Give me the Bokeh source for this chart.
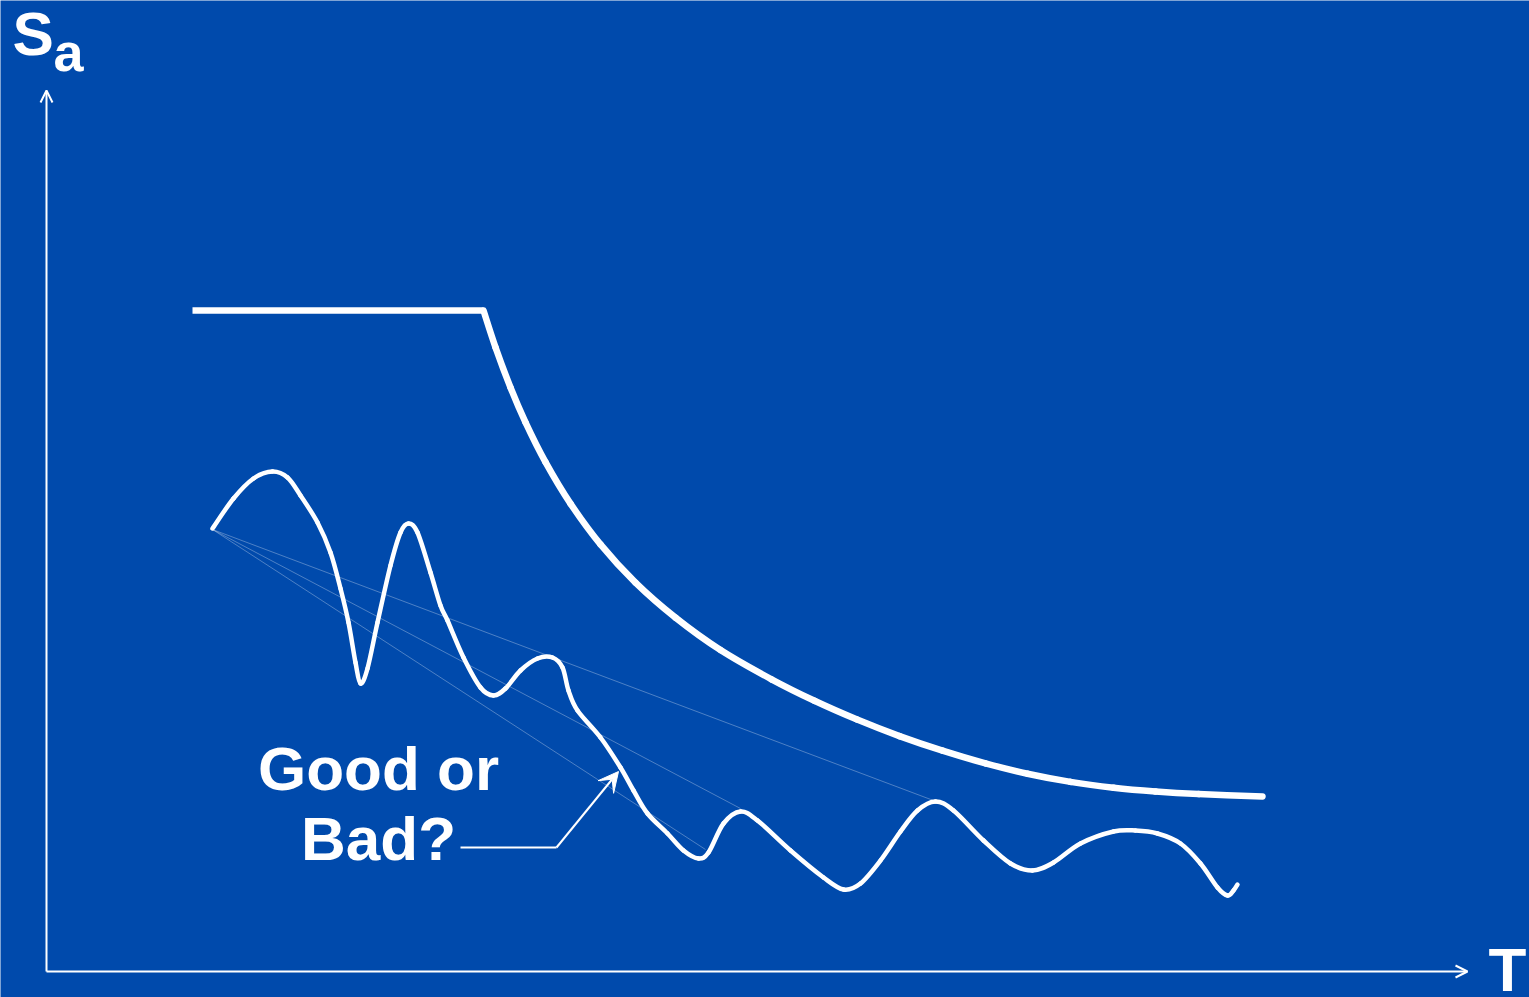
import re
from bokeh.plotting import figure
from bokeh.models import Range1d, Arrow, OpenHead, VeeHead
from bokeh.core.properties import value
from bokeh.embed import file_html
from bokeh.resources import INLINE

BG = "#004AAC"
FONT = "Liberation Sans"

# Design spectrum: plateau
plateau_T = [1.46, 4.37]
plateau_Sa = [6.61, 6.61]
# Design spectrum: descending branch
design_T = [4.37, 4.49, 4.64, 4.79, 4.99, 5.24, 5.54, 5.89, 6.29, 6.74, 7.25, 7.68,
            8.10, 8.53, 8.96, 9.39, 9.81, 10.24, 10.67, 11.09, 11.52, 12.16]
design_Sa = [6.610, 6.242, 5.840, 5.492, 5.094, 4.679, 4.271, 3.889, 3.539, 3.215,
             2.922, 2.707, 2.522, 2.354, 2.208, 2.081, 1.978, 1.896, 1.838, 1.800,
             1.774, 1.750]

# Record spectrum (wiggly)
record_T = [1.66, 1.87, 2.07, 2.26, 2.41, 2.54, 2.71, 2.84, 2.94, 3.02, 3.09,
            3.14, 3.21, 3.31, 3.44, 3.54, 3.62, 3.71, 3.84, 3.94,
            4.01, 4.17, 4.34, 4.47, 4.59, 4.74, 4.91, 5.06, 5.16,
            5.22, 5.31, 5.54, 5.74, 5.87, 6.01, 6.21, 6.37, 6.52, 6.62, 6.77,
            6.94, 7.11, 7.44, 7.77, 7.97, 8.14, 8.34, 8.54, 8.71,
            8.89, 9.07, 9.37, 9.64, 9.86, 10.07, 10.34, 10.67,
            10.89, 11.11, 11.34, 11.54, 11.71, 11.81, 11.87, 11.91]
record_Sa = [4.43, 4.73, 4.93, 5.00, 4.94, 4.76, 4.49, 4.19, 3.83, 3.49, 3.09,
             2.88, 3.03, 3.49, 4.06, 4.39, 4.48, 4.39, 3.99, 3.66,
             3.51, 3.14, 2.84, 2.76, 2.83, 3.01, 3.13, 3.14, 3.04,
             2.81, 2.61, 2.34, 2.04, 1.81, 1.58, 1.38, 1.21, 1.13, 1.19, 1.48,
             1.60, 1.51, 1.21, 0.94, 0.82, 0.88, 1.11, 1.40, 1.61,
             1.70, 1.61, 1.31, 1.08, 1.01, 1.09, 1.28, 1.40,
             1.41, 1.38, 1.28, 1.08, 0.84, 0.76, 0.81, 0.87]

# Thin fan lines from the first record point
fan_start = (1.66, 4.42)
fan_end_T = [6.59, 6.94, 8.87]
fan_end_Sa = [1.22, 1.63, 1.71]

# Annotation
note_lines = ["Good or", "Bad?"]
note_T = [3.32, 3.32]
note_Sa = [1.79, 1.09]
leader_T = [4.14, 5.10]
leader_Sa = [1.24, 1.24]
leader_tip = (5.72, 2.00)

# Axes
axis_top_Sa = 8.81
axis_end_T = 14.21

TXT_SHIFT = 0.24  # compensate the renderer's baseline offset for 62px text
TXT_SHIFT_SMALL = 0.20


def smooth_segments(xs, ys):
    """Catmull-Rom through the read points, drawn as cubic Bezier segments."""
    n = len(xs)
    x0, y0, x1, y1, cx0, cy0, cx1, cy1 = ([] for _ in range(8))
    for i in range(n - 1):
        pxm = xs[i - 1] if i > 0 else xs[i]
        pym = ys[i - 1] if i > 0 else ys[i]
        pxp = xs[i + 2] if i + 2 < n else xs[i + 1]
        pyp = ys[i + 2] if i + 2 < n else ys[i + 1]
        x0.append(xs[i]); y0.append(ys[i])
        x1.append(xs[i + 1]); y1.append(ys[i + 1])
        cx0.append(xs[i] + (xs[i + 1] - pxm) / 6.0)
        cy0.append(ys[i] + (ys[i + 1] - pym) / 6.0)
        cx1.append(xs[i + 1] - (pxp - xs[i]) / 6.0)
        cy1.append(ys[i + 1] - (pyp - ys[i]) / 6.0)
    return dict(x0=x0, y0=y0, x1=x1, y1=y1, cx0=cx0, cy0=cy0, cx1=cx1, cy1=cy1)


p = figure(width=1529, height=997, output_backend="svg", toolbar_location=None,
           x_range=Range1d(-0.46, 14.83), y_range=Range1d(-0.26, 9.71),
           min_border=0, background_fill_color=BG, border_fill_color=BG,
           outline_line_color=None)
p.axis.visible = False
p.grid.visible = False

# axes with arrows
p.add_layout(Arrow(x_start=0, y_start=0, x_end=0, y_end=axis_top_Sa,
                   line_color="white", line_width=2,
                   end=OpenHead(line_color="white", line_width=2, size=12)))
p.add_layout(Arrow(x_start=0, y_start=0, x_end=axis_end_T, y_end=0,
                   line_color="white", line_width=2,
                   end=OpenHead(line_color="white", line_width=2, size=12)))

# fan lines
for xe, ye in zip(fan_end_T, fan_end_Sa):
    p.line([fan_start[0], xe], [fan_start[1], ye], line_color="white",
           line_alpha=0.3, line_width=1)

# design spectrum
p.line(plateau_T, plateau_Sa, line_color="white", line_width=6.5)
p.bezier(**smooth_segments(design_T, design_Sa),
         line_color="white", line_width=6.5, line_cap="round")

# record spectrum
p.bezier(**smooth_segments(record_T, record_Sa),
         line_color="white", line_width=4.5, line_cap="round")

# leader line and arrow
p.line(leader_T, leader_Sa, line_color="white", line_width=2)
p.add_layout(Arrow(x_start=leader_T[-1], y_start=leader_Sa[-1],
                   x_end=leader_tip[0], y_end=leader_tip[1],
                   line_color="white", line_width=2,
                   end=VeeHead(size=20, fill_color="white", line_color="white")))

# annotation text
p.text(x=note_T, y=[s + TXT_SHIFT for s in note_Sa], text=note_lines,
       text_color="white", text_font=value(FONT), text_font_style="bold",
       text_font_size="62px", text_align="center", text_baseline="alphabetic")

# axis labels
p.text(x=[-0.34], y=[9.14 + TXT_SHIFT], text=["S"], text_color="white",
       text_font=value(FONT), text_font_style="bold", text_font_size="62px",
       text_align="left", text_baseline="alphabetic")
p.text(x=[0.07], y=[9.00 + TXT_SHIFT_SMALL], text=["a"], text_color="white",
       text_font=value(FONT), text_font_style="bold", text_font_size="54px",
       text_align="left", text_baseline="alphabetic")
p.text(x=[14.61], y=[-0.22 + TXT_SHIFT], text=["T"], text_color="white",
       text_font=value(FONT), text_font_style="bold", text_font_size="62px",
       text_align="center", text_baseline="alphabetic")

html = file_html(p, INLINE)
html = re.sub(r"<body([^>]*)>", r'<body\1 style="margin:0;background:%s;overflow:hidden">' % BG,
              html, count=1)
open("out.html", "w").write(html)
